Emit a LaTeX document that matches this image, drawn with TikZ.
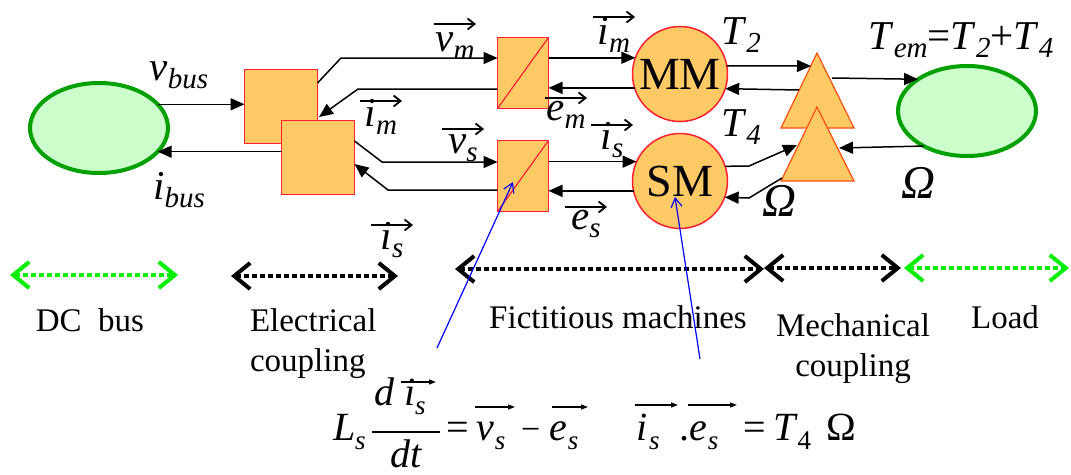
\RequirePackage{fix-cm}
\documentclass[tikz,border=0pt]{standalone}
\usepackage{fontspec}
\setmainfont{Liberation Serif}
\usetikzlibrary{arrows.meta,shapes.geometric,calc}
\definecolor{convf}{HTML}{FFCA66}
\definecolor{convb}{HTML}{FF2030}
\definecolor{trib}{HTML}{FF5010}
\definecolor{ellb}{HTML}{00A000}
\definecolor{ellf}{HTML}{CCFFCC}
\definecolor{lgreen}{HTML}{00EE00}
% label subscripts (labels at 41pt)
\newcommand\Lsub[1]{\raisebox{-8pt}{\fontsize{29}{29}\selectfont\itshape #1}}
\newcommand\Lv[2]{\textit{#1}\Lsub{#2}}
% equation subscripts (equation at 40pt)
\newcommand\Esub[1]{\raisebox{-9pt}{\fontsize{27}{27}\selectfont\itshape #1}}
\newcommand\Ev[2]{\textit{#1}\Esub{#2}}
\newcommand\vecover[2]{\draw[vec] ($(#1.center)+(-21,#2)$) -- ($(#1.center)+(21,#2)$);}
\newcommand\eqvecover[4]{\draw[eqvec] ($(#1.base west)+(#2,#4)$) -- ($(#1.base west)+(#3,#4)$);}
\begin{document}
\begin{tikzpicture}[x=1pt,y=-1pt,
  every node/.style={inner sep=0pt,outer sep=0pt},
  lab/.style={font=\fontsize{41}{43}\selectfont},
  omg/.style={font=\fontsize{47}{49}\selectfont},
  reg/.style={font=\fontsize{33}{40}\selectfont,align=center},
  eqf/.style={font=\fontsize{40}{42}\selectfont,anchor=base west},
  conn/.style={line width=1.5pt,-{Triangle[length=14pt,width=12pt]}},
  vec/.style={line width=1.4pt,-{Straight Barb[length=7pt,width=11pt,line width=1.8pt]}},
  eqvec/.style={line width=1.2pt,-{Triangle[length=7pt,width=5pt]}},
  convbox/.style={draw=convb,fill=convf,line width=1.5pt,minimum width=73pt,minimum height=74pt},
  chopper/.style={draw=convb,fill=convf,line width=1.5pt,minimum width=51pt,minimum height=71pt},
  mach/.style={circle,draw=convb,fill=convf,line width=1.5pt,minimum size=95pt,font=\fontsize{46}{48}\selectfont},
  ell/.style={ellipse,draw=ellb,fill=ellf,line width=4pt,minimum width=138pt,minimum height=90pt},
  tri/.style={draw=trib,fill=convf,line width=1.2pt},
  dotarr/.style={line width=4pt,dash pattern=on 5pt off 3pt,
    {Straight Barb[length=16pt,width=26pt,line width=4pt]}-{Straight Barb[length=16pt,width=26pt,line width=4pt]}},
  note/.style={blue,line width=1.2pt,-{Straight Barb[length=9pt,width=11pt]}}]
\useasboundingbox (0,0) rectangle (1071,474);

% sources / loads
\node[ell] (bus) at (99,128) {};
\node[ell] (load) at (967,111) {};

% electrical coupling
\node[convbox] (sq1) at (281,106.5) {};
\node[convbox] (sq2) at (318,157.5) {};

% choppers
\node[chopper] (ch1) at (523,73) {};
\draw[convb,line width=1.2pt] (ch1.south west) -- (ch1.north east);
\node[chopper] (ch2) at (523,176) {};
\draw[convb,line width=1.2pt] (ch2.south west) -- (ch2.north east);

% machines
\node[mach] (mm) at (680,74) {MM};
\node[mach] (sm) at (680,181) {SM};

% mechanical coupling triangles
\coordinate (t1a) at (817,53); \coordinate (t1r) at (854,128); \coordinate (t1l) at (781,128);
\filldraw[tri] (t1a) -- (t1r) -- (t1l) -- cycle;
\coordinate (t2a) at (817,107); \coordinate (t2r) at (854,181); \coordinate (t2l) at (781,181);
\filldraw[tri] (t2a) -- (t2r) -- (t2l) -- cycle;

% connectors
\draw[conn] (bus.22) -- (sq1.west |- bus.22);
\draw[conn] (sq2.west |- bus.-22) -- (bus.-22);
\draw[conn] (sq1.east |- 0,83) -- (341,58) -- (ch1.west |- 0,58);
\draw[conn] (ch1.west |- 0,89) -- (358,89) -- (319,117);
\draw[conn] (sq2.east |- 0,141) -- (382,162) -- (ch2.west |- 0,162);
\draw[conn] (ch2.west |- 0,190) -- (388,190) -- (sq2.east |- 0,164);
\draw[conn] (ch1.east |- mm.160) -- (mm.160);
\draw[conn] (mm.197) -- (ch1.east |- mm.197);
\draw[conn] (ch2.east |- sm.156) -- (sm.156);
\draw[conn] (sm.192) -- (ch2.east |- sm.192);
\draw[conn] (mm.10) -- (811,66);
\draw[conn] (799,90) -- (mm.-18);
\draw[conn] (832,78) -- (load.147);
\draw[conn] (load.219) -- (839,148);
\draw[conn] (sm.18) -- (749,166) -- (797,145);
\draw[conn] (t2l) ++(1,-3) -- (749,198) -- (sm.-20);

% labels
\node[lab] (lvbus) at (179,75) {\Lv{v}{bus}};
\node[lab] (libus) at (179,190) {\Lv{i}{bus}};
\node[lab] (lvm) at (455,46) {\Lv{v}{m}};
\node[lab] (lim1) at (381,117) {\Lv{i}{m}};
\node[lab] (lvs) at (463,148) {\Lv{v}{s}};
\node[lab] (lis1) at (392,240) {\Lv{i}{s}};
\node[lab] (lim2) at (614,35) {\Lv{i}{m}};
\node[lab] (lem) at (566,115) {\Lv{e}{m}};
\node[lab] (lis2) at (612,140) {\Lv{i}{s}};
\node[lab] (les) at (586,224) {\Lv{e}{s}};
\vecover{lvm}{-22}
\vecover{lim1}{-16}
\vecover{lvs}{-19}
\vecover{lis1}{-15}
\vecover{lim2}{-18}
\vecover{lem}{-17}
\vecover{lis2}{-15}
\vecover{les}{-17}
\node[lab] (lt2) at (741,35) {\Lv{T}{2}};
\node[lab] (lt4) at (741,127) {\Lv{T}{4}};
\node[lab] (ltem) at (961,40) {\Lv{T}{em}=\Lv{T}{2}+\Lv{T}{4}};
\node[omg] (lom1) at (779,201) {\textit{Ω}};
\node[omg] (lom2) at (918,183) {\textit{Ω}};

% region arrows
\coordinate (g1a) at (10,275); \coordinate (g1b) at (178,275);
\coordinate (b1a) at (231,276); \coordinate (b1b) at (398,276);
\coordinate (b2a) at (455,269); \coordinate (b2b) at (764,269);
\coordinate (b3a) at (764,268); \coordinate (b3b) at (901,268);
\coordinate (g2a) at (904,268); \coordinate (g2b) at (1069,268);
\draw[dotarr,lgreen] (g1a) -- (g1b);
\draw[dotarr,black] (b1a) -- (b1b);
\draw[dotarr,black] (b2a) -- (b2b);
\draw[dotarr,black] (b3a) -- (b3b);
\draw[dotarr,lgreen] (g2a) -- (g2b);

\node[reg,anchor=base] (rdc) at (90,331) {DC\ \ bus};
\node[reg,anchor=base west,align=left] (rel) at (250,371) {Electrical\\coupling};
\node[reg,anchor=base] (rfm) at (618,328) {Fictitious machines};
\node[reg,anchor=base] (rmc) at (853,376) {Mechanical\\coupling};
\node[reg,anchor=base] (rld) at (1005,328) {Load};

% notes
\coordinate (n1) at (437,348);
\coordinate (n2) at (700,359);
\draw[note] (n1) -- ($(ch2.center)+(-10,6)$);
\draw[note] (n2) -- ($(sm.center)+(-5,16)$);

% equation
\node[eqf] (eL) at (333,440) {\Ev{L}{s}};
\node[eqf] (enum) at (374,405) {\textit{d}\hspace{10pt}\Ev{i}{s}};
\node[eqf,anchor=base] (eden) at (406,467) {\textit{dt}};
\coordinate (fb1) at (372,432); \coordinate (fb2) at (440,432);
\draw[line width=1.3pt] (fb1) -- (fb2);
\node[eqf] (eeq1) at (446,440) {=};
\node[eqf] (ev) at (476,440) {\textit{v}\hspace{1pt}\Esub{s}};
\node[eqf,font=\fontsize{34}{36}\selectfont] (emin) at (521,440) {−};
\node[eqf] (ee1) at (549,440) {\textit{e}\hspace{1pt}\Esub{s}};
\node[eqf] (ei) at (636,440) {\textit{i}\hspace{2pt}\Esub{s}};
\node[eqf] (edot) at (679,440) {.};
\node[eqf] (ee2) at (689,440) {\textit{e}\hspace{1pt}\Esub{s}};
\node[eqf] (eeq2) at (743,440) {=};
\node[eqf] (eT) at (773,440) {\textit{T}\raisebox{-9pt}{\fontsize{27}{27}\selectfont 4}};
\node[eqf] (eO) at (826,440) {Ω};
\eqvecover{enum}{27}{62}{-23}
\eqvecover{ev}{-1}{39}{-33}
\eqvecover{ee1}{3}{39}{-33}
\eqvecover{ei}{-1}{42}{-35}
\eqvecover{ee2}{-1}{48}{-35}
\end{tikzpicture}
\end{document}
